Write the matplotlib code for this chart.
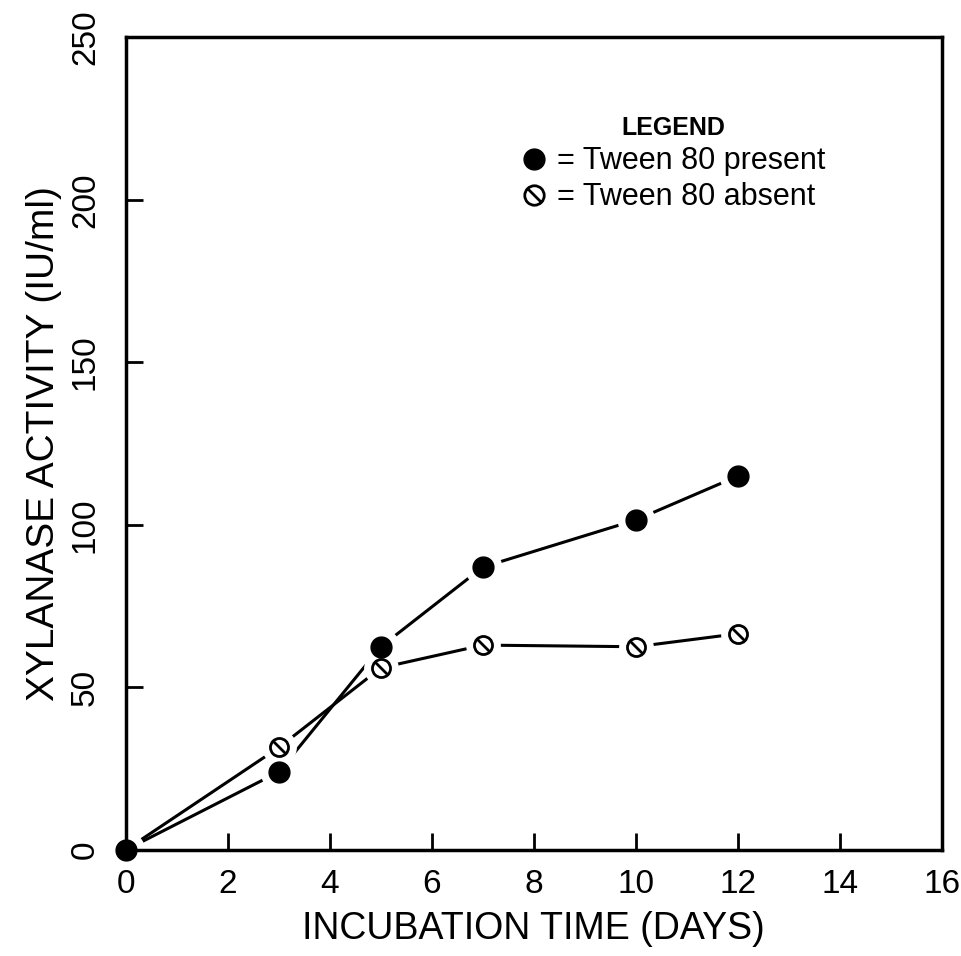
import matplotlib
matplotlib.use("Agg")
import matplotlib.pyplot as plt
from matplotlib.path import Path
from matplotlib.lines import Line2D
import numpy as np

days = [0, 3, 5, 7, 10, 12]
present = [0, 24, 62.5, 87, 101.5, 115]
absent = [0, 31.5, 56, 63, 62.5, 66.5]
xticks = [0, 2, 4, 6, 8, 10, 12, 14, 16]
yticks = [0, 50, 100, 150, 200, 250]
xlabel = "INCUBATION TIME (DAYS)"
ylabel = "XYLANASE ACTIVITY (IU/ml)"
legend_title = "LEGEND"
labels = ["= Tween 80 present", "= Tween 80 absent"]

plt.rcParams['font.family'] = ['Liberation Sans', 'DejaVu Sans']

fig = plt.figure(figsize=(9.61, 9.56), dpi=100)
ax = fig.add_axes([0.131, 0.111, 0.849, 0.850])

# slashed circle marker
circ = Path.unit_circle()
slash = Path([(-0.72, 0.72), (0.72, -0.72)], [Path.MOVETO, Path.LINETO])
oslash = Path.make_compound_path(circ, slash)

lw = 2.2
# lines
ax.plot(days, present, color='black', lw=lw, zorder=1)
ax.plot(days, absent, color='black', lw=lw, zorder=1)
# white halos to create gaps
ax.plot(days, present, ls='none', marker='o', ms=26, mfc='white', mec='white', zorder=2)
ax.plot(days, absent, ls='none', marker='o', ms=24, mfc='white', mec='white', zorder=2)
# markers
ax.plot(days, absent, ls='none', marker=oslash, ms=13, mfc='white', mec='black', mew=2,
        zorder=3, clip_on=False)
ax.plot(days, present, ls='none', marker='o', ms=15, mfc='black', mec='black',
        zorder=4, clip_on=False)

ax.set_xlim(0, 16)
ax.set_ylim(0, 250)
ax.set_xticks(xticks)
ax.set_yticks(yticks)
ax.tick_params(direction='in', length=12, width=2, labelsize=24, pad=14)
ax.tick_params(axis='y', labelrotation=90, pad=18)
for lab in ax.get_yticklabels():
    lab.set_va('center')
for s in ax.spines.values():
    s.set_linewidth(2.5)
ax.set_xlabel(xlabel, fontsize=27, labelpad=8)
ax.set_ylabel(ylabel, fontsize=28, labelpad=6)

handles = [Line2D([], [], ls='none', marker='o', ms=15, mfc='black', mec='black'),
           Line2D([], [], ls='none', marker=oslash, ms=14, mfc='white', mec='black', mew=2)]
leg = ax.legend(handles, labels, title=legend_title, frameon=False,
                loc='upper left', bbox_to_anchor=(0.47, 0.918),
                fontsize=22, title_fontsize=18, handlelength=0.8,
                handletextpad=0.35, labelspacing=0.2, borderaxespad=0)
leg.get_title().set_fontweight('bold')

fig.savefig("out.png", dpi=100)
